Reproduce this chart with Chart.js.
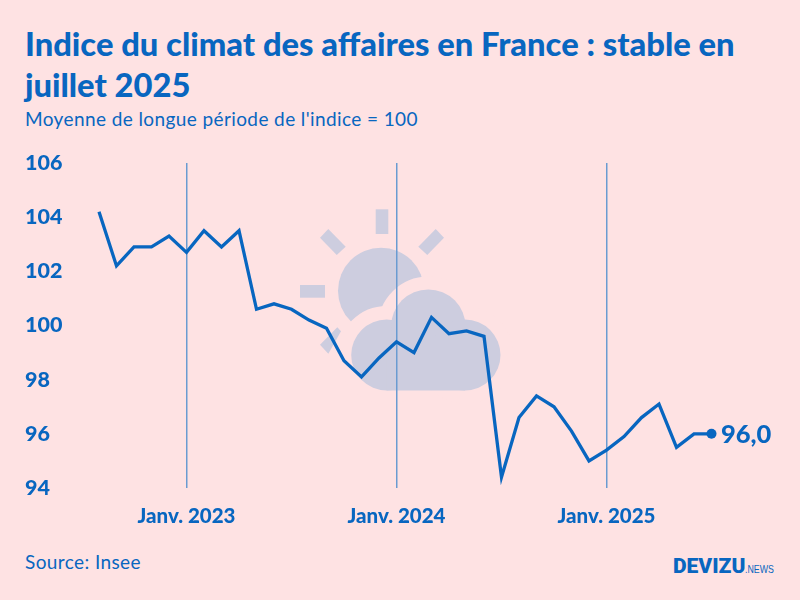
<!DOCTYPE html>
<html lang="fr">
<head>
    <meta charset="UTF-8">
    <title>Indice du climat des affaires en France</title>
    <style>
        html, body { margin: 0; padding: 0; }
        body {
            position: relative;
            width: 800px;
            height: 600px;
            overflow: hidden;
            background-color: #fee2e3;
            color: #0866c0;
            font-family: Lato, sans-serif;
        }
        h1 {
            position: absolute;
            left: 25px;
            top: 23px;
            width: 750px;
            margin: 0;
            font-size: 32.7px;
            line-height: 41px;
            font-weight: 900;
        }
        .subtitle { position: absolute; left: 25px; top: 107px; font-size: 19px; line-height: 24px; letter-spacing: 0.4px; }
        .source { position: absolute; left: 25px; top: 550px; font-size: 19px; line-height: 24px; letter-spacing: 0.4px; }
        .logo { position: absolute; left: 673px; top: 553px; font-size: 21px; line-height: 26px; font-weight: 900; font-family: Roboto, sans-serif; white-space: nowrap; }
        .logo span { display: inline-block; font-family: "Liberation Sans", sans-serif; font-size: 11px; font-weight: 400; transform: scaleX(0.8); transform-origin: left; }
        svg, canvas { position: absolute; left: 0; top: 0; }
    </style>
    <script src="https://cdn.jsdelivr.net/npm/chart.js"></script>
</head>
<body>

<h1>Indice du climat des affaires en France : stable en juillet 2025</h1>
<div class="subtitle">Moyenne de longue période de l'indice = 100</div>
<div class="source">Source: Insee</div>
<div class="logo">DEVIZU<span>.NEWS</span></div>

<!-- Weather icon behind the chart -->
<svg width="800" height="600">
    <g fill="#cdcddf">
        <circle cx="381" cy="290.7" r="43"/>
        <rect x="375.7" y="209.3" width="12.6" height="24.7"/>
        <rect x="300" y="285" width="25" height="12.7"/>
        <polygon points="328.3,229 345.7,246.7 336.7,255 320,237.7"/>
        <polygon points="435.7,229 444,237.7 427.3,255 418.3,246.7"/>
    </g>
    <g fill="#fee2e3" stroke="#fee2e3" stroke-width="26">
        <circle cx="386.7" cy="355" r="36"/>
        <circle cx="428.3" cy="326.7" r="37.3"/>
        <circle cx="465" cy="355" r="35.5"/>
    </g>
    <g fill="#cdcddf">
        <polygon points="337.3,327.3 341,331.3 328.3,353.7 320,344.7"/>
        <circle cx="386.7" cy="355" r="35.5"/>
        <circle cx="428.3" cy="326.7" r="37.3"/>
        <circle cx="465" cy="355" r="35.5"/>
        <rect x="386.7" y="340" width="78.3" height="50.5"/>
    </g>
</svg>

<canvas id="climatChart" width="800" height="600"></canvas>

<script>
    const months = [
        "Août 2022", "Sept. 2022", "Oct. 2022", "Nov. 2022", "Déc. 2022",
        "Janv. 2023", "Févr. 2023", "Mars 2023", "Avr. 2023", "Mai 2023", "Juin 2023",
        "Juil. 2023", "Août 2023", "Sept. 2023", "Oct. 2023", "Nov. 2023", "Déc. 2023",
        "Janv. 2024", "Févr. 2024", "Mars 2024", "Avr. 2024", "Mai 2024", "Juin 2024",
        "Juil. 2024", "Août 2024", "Sept. 2024", "Oct. 2024", "Nov. 2024", "Déc. 2024",
        "Janv. 2025", "Févr. 2025", "Mars 2025", "Avr. 2025", "Mai 2025", "Juin 2025", "Juil. 2025"
    ];
    const climat = [
        104.2, 102.2, 102.9, 102.9, 103.3,
        102.7, 103.5, 102.9, 103.5, 100.6, 100.8,
        100.6, 100.2, 99.9, 98.7, 98.1, 98.8,
        99.4, 99.0, 100.3, 99.7, 99.8, 99.6,
        94.4, 96.6, 97.4, 97.0, 96.1, 95.0,
        95.4, 95.9, 96.6, 97.1, 95.5, 96.0, 96.0
    ];
    const lastValueLabel = "96,0";

    const blue = '#0866c0';
    const isJanuary = (label) => label.startsWith('Janv.');

    // Writes the last value next to the end of the line
    const lastValuePlugin = {
        id: 'lastValue',
        afterDatasetsDraw(chart) {
            const last = climat.length - 1;
            const ctx = chart.ctx;
            ctx.save();
            ctx.fillStyle = blue;
            ctx.font = '900 25.5px Lato';
            ctx.textBaseline = 'middle';
            ctx.fillText(lastValueLabel, chart.scales.x.getPixelForValue(last) + 9.5, chart.scales.y.getPixelForValue(climat[last]) + 1);
            ctx.restore();
        }
    };

    const ctx = document.getElementById('climatChart').getContext('2d');
    new Chart(ctx, {
        type: 'line',
        data: {
            labels: months,
            datasets: [{
                data: climat,
                borderColor: blue,
                borderWidth: 3.3,
                tension: 0,
                clip: false,
                pointRadius: (c) => c.dataIndex === climat.length - 1 ? 5 : 0,
                pointBackgroundColor: blue,
                pointBorderWidth: 0
            }]
        },
        options: {
            responsive: false,
            animation: false,
            layout: { autoPadding: false, padding: { left: 25, right: 88.5, top: 163 } },
            plugins: { legend: { display: false }, tooltip: { enabled: false } },
            scales: {
                x: {
                    offset: false,
                    border: { display: false },
                    grid: {
                        drawTicks: false,
                        lineWidth: 1.5,
                        color: (c) => isJanuary(months[c.index]) ? '#6a9bd1' : 'transparent'
                    },
                    ticks: {
                        autoSkip: false,
                        maxRotation: 0,
                        padding: 16,
                        color: blue,
                        font: { family: 'Lato', size: 20.5, weight: '900' },
                        callback: (value, i) => isJanuary(months[i]) ? months[i] : ''
                    },
                    afterFit: (scale) => { scale.height = 112; }
                },
                y: {
                    min: 94,
                    max: 106,
                    border: { display: false },
                    grid: { display: false, drawTicks: false },
                    ticks: {
                        stepSize: 2,
                        crossAlign: 'far',
                        color: blue,
                        font: { family: 'Lato', size: 21.5, weight: '900' }
                    },
                    afterFit: (scale) => { scale.width = 74; }
                }
            }
        },
        plugins: [lastValuePlugin]
    });
</script>

</body>
</html>
